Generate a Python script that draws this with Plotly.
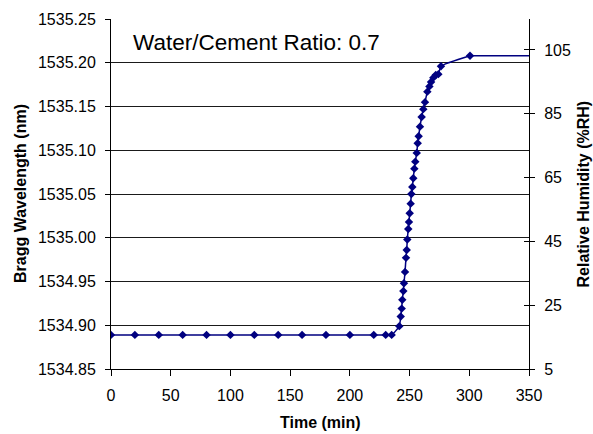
import plotly.graph_objects as go

# Data
time_min = [0, 20, 40, 60, 80, 100, 120, 140, 160, 180, 200, 220, 230, 235,
            241.4, 242.6, 243.4, 243.9, 244.8, 245.3, 246.2, 247.0, 247.6, 248.1,
            248.9, 249.5, 250.1, 250.9, 251.5, 252.3, 253.1, 254.0, 254.8, 256.0,
            256.8, 257.6, 258.7, 260.1, 261.5, 262.9, 264.9, 266.6, 268.0, 269.9,
            271.9, 274.1, 276.3, 300.6]
bragg_nm = [1534.889, 1534.889, 1534.889, 1534.889, 1534.889, 1534.889, 1534.889,
            1534.889, 1534.889, 1534.889, 1534.889, 1534.889, 1534.889, 1534.889,
            1534.899, 1534.910, 1534.919, 1534.929, 1534.939, 1534.948, 1534.961,
            1534.977, 1534.986, 1534.998, 1535.010, 1535.018, 1535.028, 1535.039,
            1535.050, 1535.058, 1535.068, 1535.079, 1535.087, 1535.097, 1535.108,
            1535.116, 1535.127, 1535.138, 1535.147, 1535.155, 1535.167, 1535.173,
            1535.178, 1535.183, 1535.186, 1535.187, 1535.196, 1535.208]
# flat tail of the curve (no markers)
tail_time = [300.6, 350]
tail_bragg = [1535.208, 1535.208]

x_ticks = [0, 50, 100, 150, 200, 250, 300, 350]
y_ticks = [1534.85, 1534.90, 1534.95, 1535.00, 1535.05, 1535.10, 1535.15, 1535.20, 1535.25]
y_tick_text = ["1534.85", "1534.90", "1534.95", "1535.00", "1535.05",
               "1535.10", "1535.15", "1535.20", "1535.25"]
rh_ticks = [5, 25, 45, 65, 85, 105]
rh_range = [5, 114.7]

title_text = "Water/Cement Ratio: 0.7"
x_title = "Time (min)"
y_title = "Bragg Wavelength (nm)"
y2_title = "Relative Humidity (%RH)"

NAVY = "#000080"
FONT = "Liberation Sans, Arial, sans-serif"

fig = go.Figure()
fig.add_trace(go.Scatter(
    x=time_min, y=bragg_nm, mode="lines",
    line=dict(color=NAVY, width=1.5, shape="spline", smoothing=0.5),
    hoverinfo="skip", showlegend=False))
fig.add_trace(go.Scatter(
    x=tail_time, y=tail_bragg, mode="lines",
    line=dict(color=NAVY, width=1.5),
    hoverinfo="skip", showlegend=False))
fig.add_trace(go.Scatter(
    x=time_min, y=bragg_nm, mode="markers",
    marker=dict(symbol="diamond", size=6.5, color=NAVY),
    showlegend=False))
# invisible traces to anchor right-hand axes
fig.add_trace(go.Scatter(x=[None], y=[None], yaxis="y2", showlegend=False))
fig.add_trace(go.Scatter(x=[None], y=[None], yaxis="y3", showlegend=False))

tickfont = dict(family=FONT, size=16, color="black")

fig.update_layout(
    width=593, height=434,
    margin=dict(l=111, r=64, t=19, b=65),
    paper_bgcolor="white", plot_bgcolor="white",
    xaxis=dict(range=[0, 350], tickvals=x_ticks, ticks="outside", ticklen=6,
               tickcolor="black", showline=True, linecolor="black", linewidth=1,
               showgrid=False, zeroline=False, tickfont=tickfont,
               ticklabelstandoff=6),
    yaxis=dict(range=[1534.85, 1535.25], tickvals=y_ticks, ticktext=y_tick_text,
               ticks="outside", ticklen=5, tickcolor="black",
               showline=True, linecolor="black", linewidth=1,
               showgrid=True, gridcolor="#1a1a1a", gridwidth=1,
               zeroline=False, tickfont=tickfont, ticklabelstandoff=6),
    yaxis2=dict(range=rh_range, tickvals=rh_ticks, overlaying="y", side="right",
                ticks="outside", ticklen=5, tickcolor="black",
                showline=True, linecolor="black", linewidth=1,
                showgrid=False, zeroline=False, tickfont=tickfont,
                ticklabelstandoff=6),
    yaxis3=dict(range=rh_range, tickvals=rh_ticks, overlaying="y", side="right",
                ticks="inside", ticklen=5, tickcolor="black",
                showticklabels=False, showline=False,
                showgrid=False, zeroline=False),
    annotations=[
        dict(text=title_text, xref="paper", yref="paper", x=0.048, y=0.934,
             xanchor="left", yanchor="middle", showarrow=False,
             font=dict(family=FONT, size=22.5, color="black")),
        dict(text="<b>" + x_title + "</b>", xref="paper", yref="paper",
             x=0.5, y=-0.154, xanchor="center", yanchor="middle", showarrow=False,
             font=dict(family=FONT, size=16, color="black")),
        dict(text="<b>" + y_title + "</b>", xref="paper", yref="paper",
             x=-0.2177, y=0.5, xanchor="center", yanchor="middle", showarrow=False,
             textangle=-90, font=dict(family=FONT, size=16, color="black")),
        dict(text="<b>" + y2_title + "</b>", xref="paper", yref="paper",
             x=1.128, y=0.5, xanchor="center", yanchor="middle", showarrow=False,
             textangle=-90, font=dict(family=FONT, size=16, color="black")),
    ],
)

fig.write_html("out.html")
